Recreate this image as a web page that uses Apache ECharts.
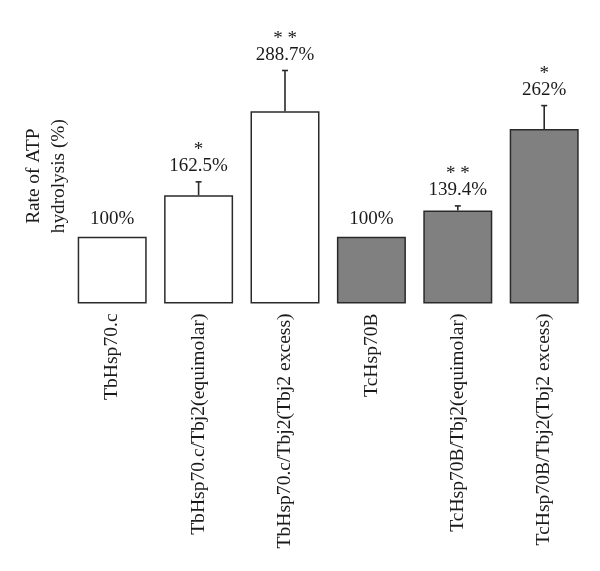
<!DOCTYPE html>
<html><head><meta charset="utf-8">
<script src="https://cdn.jsdelivr.net/npm/echarts@6/dist/echarts.min.js"></script>
<style>html,body{margin:0;padding:0;background:#fff}#c{width:600px;height:571px}</style>
</head><body><div id="c"></div>
<script>
var categories = ['TbHsp70.c', 'TbHsp70.c/Tbj2(equimolar)', 'TbHsp70.c/Tbj2(Tbj2 excess)', 'TcHsp70B', 'TcHsp70B/Tbj2(equimolar)', 'TcHsp70B/Tbj2(Tbj2 excess)'];
var values = [100, 162.5, 288.7, 100, 139.4, 262];
var errors = [0, 20, 61, 0, 7, 35];
var valueLabels = ['100%', '162.5%', '288.7%', '100%', '139.4%', '262%'];
var stars = ['', '*', '* *', '', '* *', '*'];
var groupColors = ['#ffffff', '#ffffff', '#ffffff', '#808080', '#808080', '#808080'];

var FONT = '"Liberation Serif", "DejaVu Serif", serif';
var TXT = '#1a1a1a';
var chart = echarts.init(document.getElementById('c'), null, {renderer: 'canvas'});
chart.setOption({
  animation: false,
  backgroundColor: '#fff',
  grid: {left: 69, right: 12.6, top: 37, height: 266.4},
  xAxis: {
    type: 'category', data: categories,
    axisLine: {show: false}, axisTick: {show: false},
    axisLabel: {rotate: 90, margin: 10, fontFamily: FONT, fontSize: 19.6, color: TXT, interval: 0}
  },
  yAxis: {
    type: 'value', min: 0, max: 400,
    axisLine: {show: false}, axisTick: {show: false}, axisLabel: {show: false}, splitLine: {show: false},
    name: 'Rate of ATP\nhydrolysis (%)', nameLocation: 'middle', nameRotate: 90, nameGap: -2,
    nameTextStyle: {fontFamily: FONT, fontSize: 19.3, color: TXT, lineHeight: 25, padding: [0, 12, 0, 0]}
  },
  series: [{
    type: 'bar', barWidth: 69,
    data: values.map(function (v, i) {
      return {value: v, itemStyle: {color: groupColors[i], borderColor: '#2a2a2a', borderWidth: 1.5}};
    })
  }, {
    type: 'custom',
    data: values.map(function (v, i) { return [i, v, errors[i]]; }),
    z: 5,
    renderItem: function (params, api) {
      var i = api.value(0), v = api.value(1), e = api.value(2);
      var base = api.coord([i, v]);
      var top = api.coord([i, v + e]);
      var x = base[0];
      var children = [];
      if (e > 0) {
        children.push({type: 'line', shape: {x1: x, y1: base[1], x2: x, y2: top[1]}, style: {stroke: '#2a2a2a', lineWidth: 1.6}});
        children.push({type: 'line', shape: {x1: x - 3, y1: top[1], x2: x + 3, y2: top[1]}, style: {stroke: '#2a2a2a', lineWidth: 1.6}});
      }
      var ly = top[1] - (e > 0 ? 15.5 : 17.5);
      children.push({type: 'text', style: {text: valueLabels[i], x: x, y: ly, textAlign: 'center', textVerticalAlign: 'middle', font: '19px ' + FONT, fill: TXT}});
      if (stars[i]) {
        children.push({type: 'text', style: {text: stars[i], x: x, y: ly - 16, textAlign: 'center', textVerticalAlign: 'middle', font: '19px ' + FONT, fill: TXT}});
      }
      return {type: 'group', children: children};
    }
  }]
});
</script></body></html>
